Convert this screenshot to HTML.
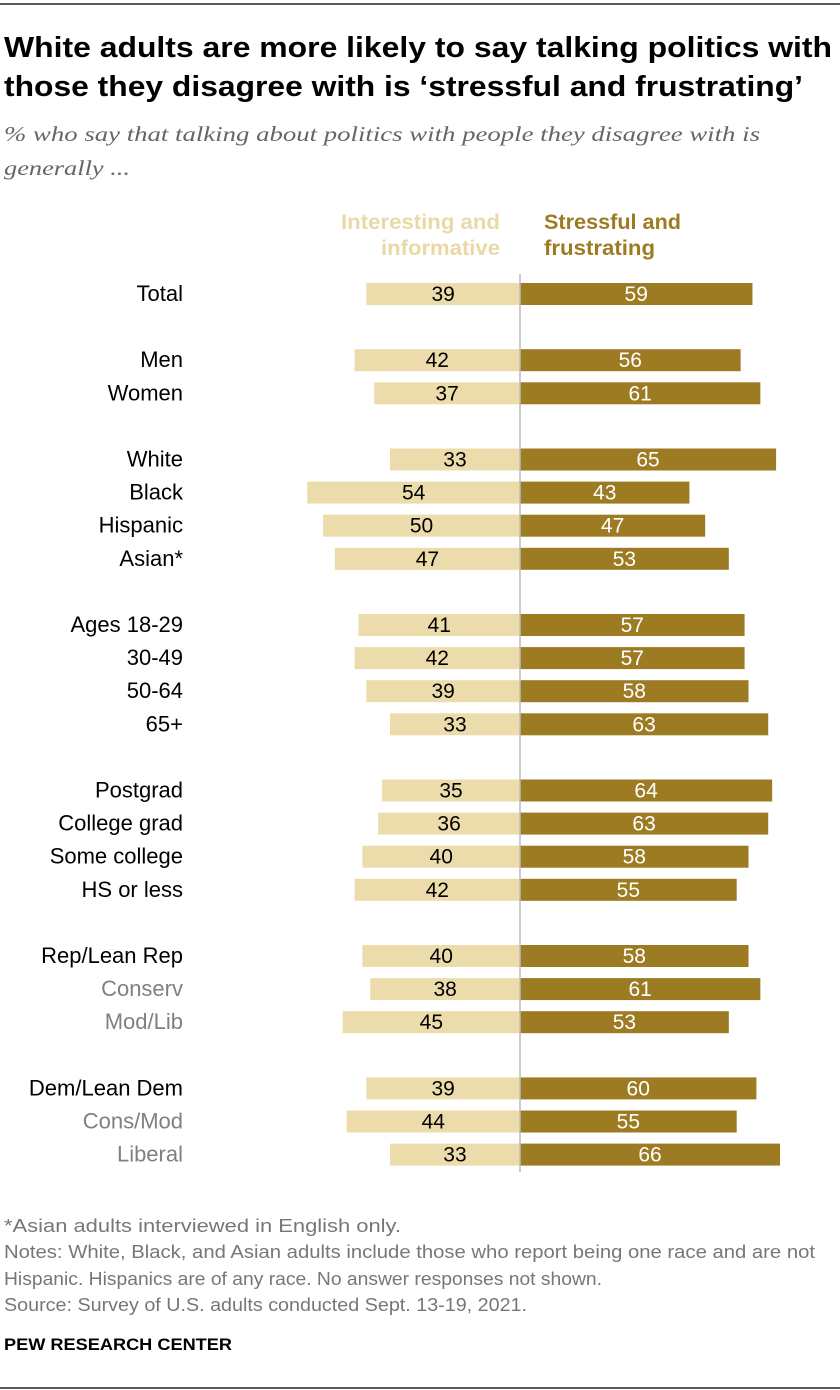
<!DOCTYPE html>
<html><head><meta charset="utf-8"><style>
html,body{margin:0;padding:0;background:#fff;}
svg{display:block;}
text{font-family:"Liberation Sans",sans-serif;}
.cond{font-family:"Liberation Sans Narrow","Liberation Sans",sans-serif;font-weight:bold;}
</style></head><body>
<svg id="chart" width="840" height="1390" viewBox="0 0 840 1390">
<line x1="0" y1="4" x2="840" y2="4" stroke="#222" stroke-width="1.5"/>
<text class="cond" x="4" y="57" font-size="29" fill="#000" textLength="828" lengthAdjust="spacingAndGlyphs">White adults are more likely to say talking politics with</text>
<text class="cond" x="4" y="96" font-size="29" fill="#000" textLength="799" lengthAdjust="spacingAndGlyphs">those they disagree with is ‘stressful and frustrating’</text>
<text x="4" y="141" font-size="21" font-style="italic" fill="#666" style="font-family:'Liberation Serif',serif" textLength="756" lengthAdjust="spacingAndGlyphs">% who say that talking about politics with people they disagree with is</text>
<text x="4" y="175" font-size="21" font-style="italic" fill="#666" style="font-family:'Liberation Serif',serif" textLength="126" lengthAdjust="spacingAndGlyphs">generally ...</text>
<text class="cond" x="500" y="229" font-size="21" fill="#e9d9a6" text-anchor="end" textLength="159" lengthAdjust="spacingAndGlyphs">Interesting and</text>
<text class="cond" x="500" y="255" font-size="21" fill="#e9d9a6" text-anchor="end" textLength="119" lengthAdjust="spacingAndGlyphs">informative</text>
<text class="cond" x="544" y="229" font-size="21" fill="#9c7b22" textLength="137" lengthAdjust="spacingAndGlyphs">Stressful and</text>
<text class="cond" x="544" y="255" font-size="21" fill="#9c7b22" textLength="111" lengthAdjust="spacingAndGlyphs">frustrating</text>
<g id="bars"></g>
<line x1="520" y1="274" x2="520" y2="1172" stroke="#bbb" stroke-width="1.5"/>
<text x="4" y="1232" font-size="18" fill="#777" textLength="397" lengthAdjust="spacingAndGlyphs">*Asian adults interviewed in English only.</text>
<text x="4" y="1258" font-size="18" fill="#777" textLength="811" lengthAdjust="spacingAndGlyphs">Notes: White, Black, and Asian adults include those who report being one race and are not</text>
<text x="4" y="1285" font-size="18" fill="#777" textLength="598" lengthAdjust="spacingAndGlyphs">Hispanic. Hispanics are of any race. No answer responses not shown.</text>
<text x="4" y="1311" font-size="18" fill="#777" textLength="523" lengthAdjust="spacingAndGlyphs">Source: Survey of U.S. adults conducted Sept. 13-19, 2021.</text>
<text x="4" y="1350" font-size="17" font-weight="bold" fill="#000" textLength="228" lengthAdjust="spacingAndGlyphs">PEW RESEARCH CENTER</text>
<line x1="0" y1="1388" x2="840" y2="1388" stroke="#222" stroke-width="1.5"/>
</svg>
<script>
const categories = ["Total","Men","Women","White","Black","Hispanic","Asian*","Ages 18-29","30-49","50-64","65+","Postgrad","College grad","Some college","HS or less","Rep/Lean Rep","Conserv","Mod/Lib","Dem/Lean Dem","Cons/Mod","Liberal"];
const interesting = [39,42,37,33,54,50,47,41,42,39,33,35,36,40,42,40,38,45,39,44,33];
const stressful = [59,56,61,65,43,47,53,57,57,58,63,64,63,58,55,58,61,53,60,55,66];
const groupIndex = [0,1,1,2,2,2,2,3,3,3,3,4,4,4,4,5,5,5,6,6,6];
const subgroup = [0,0,0,0,0,0,0,0,0,0,0,0,0,0,0,0,1,1,0,1,1];

const NS="http://www.w3.org/2000/svg";
const cx=520, scale=3.94, barH=22;
function xLen(v){return v*scale;}
function rowY(i){ return 294 + (i + groupIndex[i])*33.1; }
const gEl=document.getElementById('bars');
function mk(tag,attrs){const e=document.createElementNS(NS,tag);for(const k in attrs)e.setAttribute(k,attrs[k]);return e;}
categories.forEach((c,i)=>{
  const y=rowY(i);
  const lab=mk('text',{x:183,y:y+7,'font-size':22,'text-anchor':'end',fill:subgroup[i]?'#808080':'#000'});
  lab.textContent=c;
  
  
  gEl.appendChild(lab);
  const wl=xLen(interesting[i]);
  const r1=mk('rect',{x:cx-wl,y:y-barH/2,width:wl,height:barH,fill:'#ecdcab'});
  
  
  gEl.appendChild(r1);
  const t1=mk('text',{x:cx-wl/2,y:y+7,'font-size':21,'text-anchor':'middle',fill:'#000'});
  t1.textContent=interesting[i];
  
  
  gEl.appendChild(t1);
  const wr=xLen(stressful[i]);
  const r2=mk('rect',{x:cx,y:y-barH/2,width:wr,height:barH,fill:'#9c7b22'});
  
  
  gEl.appendChild(r2);
  const t2=mk('text',{x:cx+wr/2,y:y+7,'font-size':21,'text-anchor':'middle',fill:'#fff'});
  t2.textContent=stressful[i];
  
  
  gEl.appendChild(t2);
});
</script>
</body></html>
